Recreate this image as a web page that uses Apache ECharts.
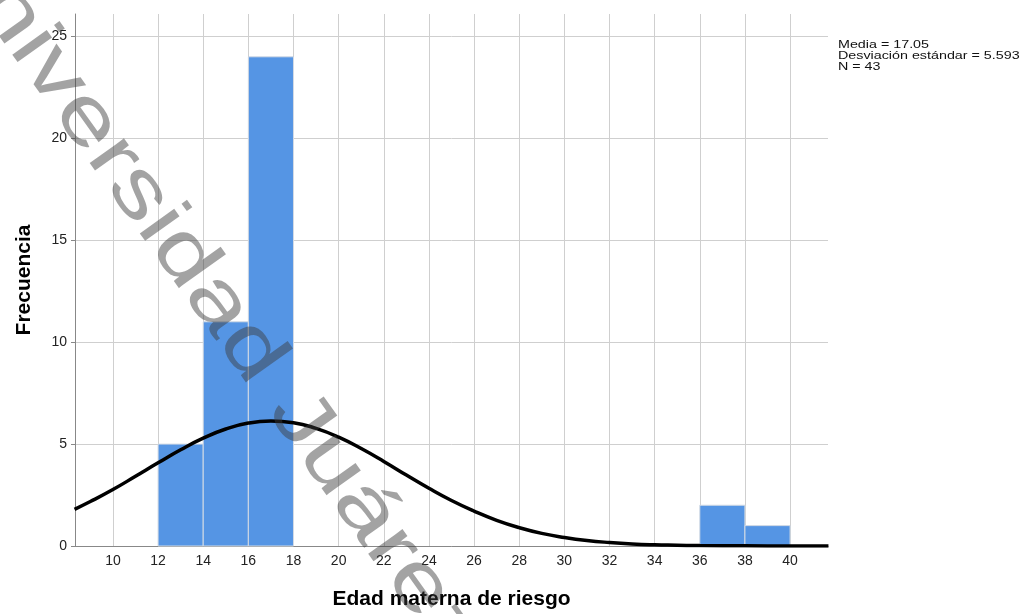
<!DOCTYPE html>
<html>
<head>
<meta charset="utf-8">
<script src="https://cdn.jsdelivr.net/npm/echarts@6/dist/echarts.min.js"></script>
<style>
  html, body { margin: 0; padding: 0; background: #fff; }
  #main { width: 1024px; height: 614px; }
</style>
</head>
<body>
<div id="main"></div>
<script>
  // histograma: intervalos de 2 años
  var binStart = [12, 14, 16, 36, 38];
  var binEnd = [14, 16, 18, 38, 40];
  var counts = [5, 11, 24, 2, 1];

  // curva normal
  var curveX = [8.3, 9, 10, 11, 12, 13, 14, 15, 16, 17, 18, 19, 20, 21, 22, 23, 24, 25, 26, 27, 28, 29, 30, 31, 32, 33, 34, 35, 36, 38, 40, 41.7];
  var curveY = [1.8, 2.18, 2.77, 3.42, 4.08, 4.72, 5.29, 5.74, 6.03, 6.13, 6.05, 5.77, 5.34, 4.78, 4.15, 3.48, 2.83, 2.23, 1.71, 1.26, 0.9, 0.62, 0.42, 0.27, 0.17, 0.1, 0.06, 0.04, 0.02, 0.01, 0, 0];

  var xTicks = [10, 12, 14, 16, 18, 20, 22, 24, 26, 28, 30, 32, 34, 36, 38, 40];
  var yTicks = [0, 5, 10, 15, 20, 25];

  var statsLines = ['Media = 17.05', 'Desviación estándar = 5.593', 'N = 43'];

  var histData = binStart.map(function (s, i) { return [s, binEnd[i], counts[i]]; });
  var curveData = curveX.map(function (x, i) { return [x, curveY[i]]; });

  var myChart = echarts.init(document.getElementById('main'));
  var option = {
    backgroundColor: '#fff',
    animation: false,
    textStyle: { fontFamily: 'Liberation Sans' },
    grid: { left: 75, right: 196, top: 14, bottom: 68, containLabel: false, outerBoundsMode: 'none' },
    xAxis: {
      type: 'value',
      min: 8.32,
      max: 41.68,
      name: 'Edad materna de riesgo',
      nameLocation: 'middle',
      nameGap: 43,
      nameTextStyle: { fontSize: 21, fontWeight: 'bold', color: '#000' },
      axisLine: { show: true, lineStyle: { color: '#888', width: 1 } },
      axisTick: { show: false, customValues: xTicks },
      axisLabel: { customValues: xTicks, margin: 8, fontSize: 14, color: '#222' },
      splitLine: { show: true, lineStyle: { color: '#cfcfcf', width: 1 } }
    },
    yAxis: {
      type: 'value',
      min: 0,
      max: 26.1,
      name: 'Frecuencia',
      nameLocation: 'middle',
      nameGap: 40,
      nameTextStyle: { fontSize: 21, fontWeight: 'bold', color: '#000' },
      axisLine: { show: true, lineStyle: { color: '#888', width: 1 } },
      axisTick: { show: true, inside: false, length: 4, customValues: yTicks, lineStyle: { color: '#888' } },
      axisLabel: { customValues: yTicks, margin: 8, fontSize: 14, color: '#222' },
      splitLine: { show: true, lineStyle: { color: '#cfcfcf', width: 1 } }
    },
    series: [
      {
        type: 'custom',
        data: histData,
        encode: { x: [0, 1], y: 2 },
        z: 2,
        renderItem: function (params, api) {
          var p0 = api.coord([api.value(0), api.value(2)]);
          var p1 = api.coord([api.value(1), 0]);
          return {
            type: 'rect',
            shape: { x: p0[0], y: p0[1], width: p1[0] - p0[0], height: p1[1] - p0[1] },
            style: { fill: '#5595e4', stroke: '#d4dbe4', lineWidth: 1 }
          };
        }
      },
      {
        type: 'line',
        data: curveData,
        smooth: true,
        showSymbol: false,
        z: 3,
        lineStyle: { color: '#000', width: 3.5 }
      }
    ],
    graphic: [
      {
        type: 'text',
        x: 838,
        y: 39,
        scaleX: 1.3,
        silent: true,
        style: {
          text: statsLines.join('\n'),
          fontSize: 11,
          lineHeight: 11.3,
          fill: '#111',
          fontFamily: 'Liberation Sans',
          align: 'left',
          verticalAlign: 'top'
        }
      },
      {
        // marca de agua
        type: 'text',
        x: -51,
        y: -72,
        rotation: -54.5 * Math.PI / 180,
        scaleX: 1.3,
        silent: true,
        z: 100,
        style: {
          text: 'Universidad Juárez del Estado de Durango',
          fontSize: 80,
          fontFamily: 'Liberation Sans',
          fill: 'rgba(60,60,60,0.47)',
          verticalAlign: 'middle',
          align: 'left'
        }
      }
    ]
  };
  myChart.setOption(option);
</script>
</body>
</html>
